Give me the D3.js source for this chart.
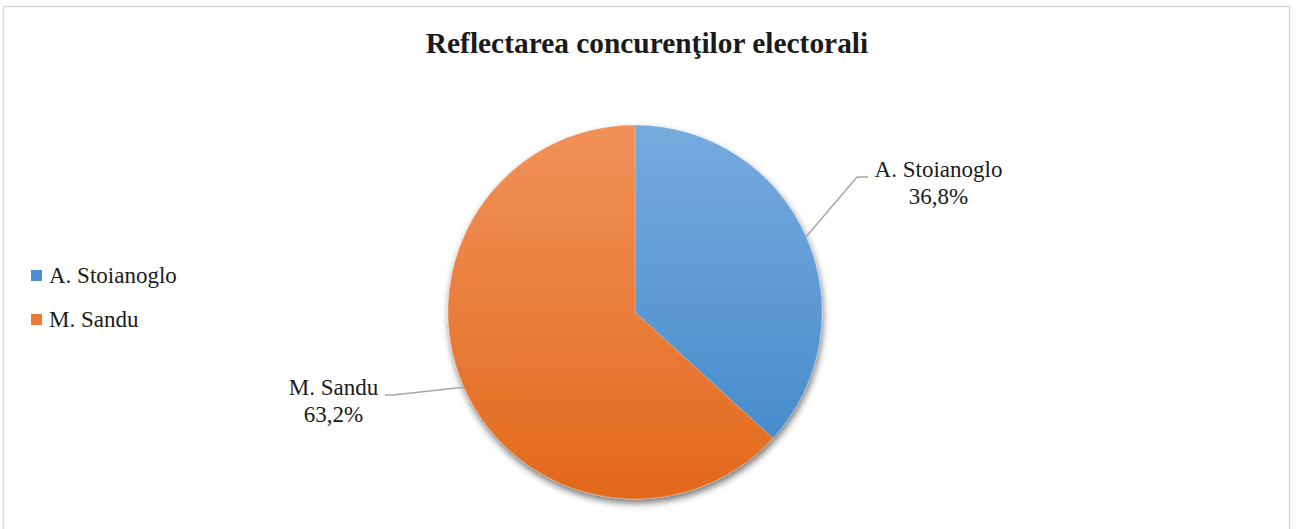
<!DOCTYPE html>
<html>
<head>
<meta charset="utf-8">
<script src="https://cdn.jsdelivr.net/npm/d3@7/dist/d3.min.js"></script>
<style>
  html, body { margin: 0; padding: 0; background: #fff; }
  svg { display: block; }
</style>
</head>
<body>
<svg id="chart" width="1297" height="529"></svg>
<script>
// Vote shares of the two candidates
const categories = ["A. Stoianoglo", "M. Sandu"];
const values = [36.8, 63.2];
const valueLabels = ["36,8%", "63,2%"];
const title = "Reflectarea concurenţilor electorali";

const FONT = "'Liberation Serif', 'Times New Roman', Times, serif";
const cx = 635, cy = 312, R = 187;

const svg = d3.select("#chart");
const defs = svg.append("defs");

// Vertical gradients, lighter at top, darker at bottom (coordinates relative to pie centre)
const gradStops = [
  ["#77abdf", "#3e86c8"],
  ["#f1915a", "#e2691b"]
];
gradStops.forEach((s, i) => {
  const g = defs.append("linearGradient")
    .attr("id", "grad" + i)
    .attr("gradientUnits", "userSpaceOnUse")
    .attr("x1", 0).attr("y1", -R).attr("x2", 0).attr("y2", R);
  g.append("stop").attr("offset", "0%").attr("stop-color", s[0]);
  g.append("stop").attr("offset", "100%").attr("stop-color", s[1]);
});

const shadow = defs.append("filter").attr("id", "shadow")
  .attr("x", "-20%").attr("y", "-20%").attr("width", "140%").attr("height", "140%");
shadow.append("feDropShadow")
  .attr("dx", 1).attr("dy", 4).attr("stdDeviation", 3.5)
  .attr("flood-color", "#000").attr("flood-opacity", 0.55);

// Chart frame
svg.append("rect")
  .attr("x", 3.5).attr("y", 6.5).attr("width", 1286).attr("height", 540)
  .attr("fill", "#fff").attr("stroke", "#d9d9d9").attr("stroke-width", 1.5);

// Title
svg.append("text")
  .attr("x", 647).attr("y", 53)
  .attr("text-anchor", "middle")
  .attr("font-family", FONT)
  .attr("font-weight", "bold").attr("font-size", 29.4)
  .attr("fill", "#1a1a1a")
  .text(title);

const color = d3.scaleOrdinal().domain(categories).range(["url(#grad0)", "url(#grad1)"]);
const legendColor = d3.scaleOrdinal().domain(categories).range(["#4a8fd0", "#ec7a32"]);

const pie = d3.pie().sort(null).value(d => d.value);
const data = pie(categories.map((c, i) => ({ name: c, value: values[i], label: valueLabels[i] })));
const arc = d3.arc().innerRadius(0).outerRadius(R);

const g = svg.append("g").attr("transform", `translate(${cx},${cy})`);
g.append("g").attr("filter", "url(#shadow)")
  .selectAll("path").data(data).join("path")
  .attr("d", arc)
  .attr("fill", d => color(d.data.name))
  .attr("stroke", "rgba(255,255,255,0.35)")
  .attr("stroke-width", 0.6);

// Data labels with leader lines
const labelLayout = {
  "A. Stoianoglo": { elbow: [222, -135], end: [233, -135], text: [303.5, -135] },
  "M. Sandu":      { elbow: [-242, 83],  end: [-250, 83],  text: [-301.5, 83] }
};
data.forEach(d => {
  const L = labelLayout[d.data.name];
  const a = (d.startAngle + d.endAngle) / 2;
  const p0 = [R * Math.sin(a), -R * Math.cos(a)];
  g.append("polyline")
    .attr("points", [p0, L.elbow, L.end].map(p => p.join(",")).join(" "))
    .attr("fill", "none").attr("stroke", "#a6a6a6").attr("stroke-width", 1.5);
  const t = g.append("text")
    .attr("x", L.text[0]).attr("y", L.text[1])
    .attr("text-anchor", "middle")
    .attr("font-family", FONT).attr("font-size", 23).attr("fill", "#1a1a1a");
  t.append("tspan").attr("x", L.text[0]).attr("dy", 0).text(d.data.name);
  t.append("tspan").attr("x", L.text[0]).attr("dy", 27).text(d.data.label);
});

// Legend
const legend = svg.append("g").attr("transform", "translate(31,270)");
const item = legend.selectAll("g").data(categories).join("g")
  .attr("transform", (d, i) => `translate(0,${i * 44})`);
item.append("rect").attr("width", 11).attr("height", 11)
  .attr("fill", d => legendColor(d));
item.append("text").attr("x", 18).attr("y", 13)
  .attr("font-family", FONT).attr("font-size", 23).attr("fill", "#1a1a1a")
  .text(d => d);
</script>
</body>
</html>
